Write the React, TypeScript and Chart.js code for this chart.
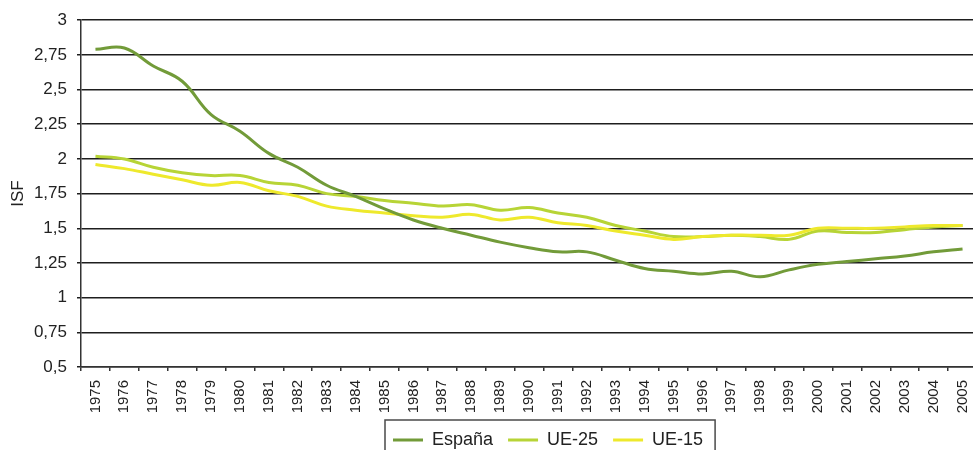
import React, { useEffect, useRef } from 'react';
import { Chart, registerables } from 'chart.js';

Chart.register(...registerables);

const YEARS = [
  '1975', '1976', '1977', '1978', '1979', '1980', '1981', '1982', '1983', '1984',
  '1985', '1986', '1987', '1988', '1989', '1990', '1991', '1992', '1993', '1994',
  '1995', '1996', '1997', '1998', '1999', '2000', '2001', '2002', '2003', '2004', '2005',
];

const ESPANA = [
  2.79, 2.80, 2.67, 2.56, 2.32, 2.20, 2.04, 1.94, 1.81, 1.73,
  1.64, 1.56, 1.50, 1.45, 1.40, 1.36, 1.33, 1.33, 1.27, 1.21,
  1.19, 1.17, 1.19, 1.15, 1.20, 1.24, 1.26, 1.28, 1.30, 1.33, 1.35,
];

const UE25 = [
  2.02, 2.00, 1.94, 1.90, 1.88, 1.88, 1.83, 1.81, 1.75, 1.73,
  1.70, 1.68, 1.66, 1.67, 1.63, 1.65, 1.61, 1.58, 1.52, 1.48,
  1.44, 1.44, 1.45, 1.44, 1.42, 1.48, 1.47, 1.47, 1.49, 1.51, 1.52,
];

const UE15 = [
  1.96, 1.93, 1.89, 1.85, 1.81, 1.83, 1.77, 1.73, 1.66, 1.63,
  1.61, 1.59, 1.58, 1.60, 1.56, 1.58, 1.54, 1.52, 1.48, 1.45,
  1.42, 1.44, 1.45, 1.45, 1.45, 1.50, 1.50, 1.50, 1.51, 1.52, 1.52,
];

const SERIES_NAMES = ['España', 'UE-25', 'UE-15'];
const SERIES_COLORS = ['#729b39', '#b7d436', '#eee92c'];
const Y_MIN = 0.5;
const Y_MAX = 3;
const Y_STEP = 0.25;
const Y_TITLE = 'ISF';

const FONT = "'Liberation Sans', Arial, Helvetica, sans-serif";

export default function App() {
  const ref = useRef<HTMLCanvasElement | null>(null);

  useEffect(() => {
    const canvas = ref.current;
    if (!canvas) return;
    Chart.defaults.font.family = FONT;

    const LEGEND_PAD = 15;

    const legendPlace = {
      id: 'legendPlace',
      afterLayout(chart: any) {
        const lg = chart.legend;
        if (!lg || !lg.lineWidths) return;
        const sum = lg.lineWidths[0];
        const cx = (lg.left + LEGEND_PAD + lg.right - sum) / 2;
        const dx = 393 - cx;
        lg.left += dx;
        lg.right += dx;
        const dy = 416 - lg.top;
        lg.top += dy;
        lg.bottom += dy;
      },
      afterDraw(chart: any) {
        const lg = chart.legend;
        if (!lg || !lg.legendHitBoxes || !lg.legendHitBoxes.length) return;
        const hb = lg.legendHitBoxes;
        const first = hb[0];
        const last = hb[hb.length - 1];
        const ctx = chart.ctx;
        ctx.save();
        ctx.strokeStyle = '#4a4a4a';
        ctx.lineWidth = 1.5;
        const left = first.left - 8;
        const top = first.top - 11;
        const right = last.left + last.width + 12;
        ctx.strokeRect(left, top, right - left, 60);
        ctx.restore();
      },
    };

    const datasets = [ESPANA, UE25, UE15].map((values, i) => ({
      label: SERIES_NAMES[i],
      data: values,
      borderColor: SERIES_COLORS[i],
      backgroundColor: SERIES_COLORS[i],
      borderWidth: 3,
      pointRadius: 0,
      pointHoverRadius: 0,
      pointStyle: 'line',
      tension: 0.4,
      fill: false,
      order: i === 0 ? 0 : i === 2 ? 1 : 2,
    }));

    const chart = new Chart(canvas, {
      type: 'line',
      data: { labels: YEARS, datasets },
      options: {
        responsive: false,
        animation: false,
        devicePixelRatio: 1,
        layout: { padding: { top: 19, right: 3, left: 0, bottom: 0 } },
        plugins: {
          tooltip: { enabled: false },
          legend: {
            display: true,
            position: 'bottom',
            labels: {
              usePointStyle: true,
              pointStyle: 'line',
              pointStyleWidth: 30,
              padding: LEGEND_PAD,
              color: '#222',
              font: { size: 18, family: FONT },
              sort: (a: any, b: any) => a.datasetIndex - b.datasetIndex,
            },
          },
        },
        scales: {
          x: {
            type: 'category',
            offset: true,
            grid: {
              display: true,
              drawOnChartArea: false,
              drawTicks: true,
              tickLength: 4,
              offset: true,
              color: '#333',
              lineWidth: 1.5,
            },
            border: { display: true, color: '#333', width: 1.5 },
            ticks: {
              autoSkip: false,
              minRotation: 90,
              maxRotation: 90,
              padding: 9,
              color: '#222',
              font: { size: 15, family: FONT },
            },
            afterFit: (s: any) => {
              s.height = 50;
              s.paddingRight = 0;
              s.paddingLeft = 0;
            },
          },
          y: {
            min: Y_MIN,
            max: Y_MAX,
            ticks: {
              stepSize: Y_STEP,
              padding: 10,
              color: '#222',
              font: { size: 17, family: FONT },
              callback: (v: any) => String(Number(v)).replace('.', ','),
            },
            grid: {
              color: '#1e1e1e',
              lineWidth: 1.5,
              drawTicks: true,
              tickLength: 4,
            },
            border: { display: true, color: '#333', width: 1.5 },
            title: {
              display: true,
              text: Y_TITLE,
              color: '#222',
              font: { size: 17, family: FONT },
              padding: { top: 8, bottom: 0 },
            },
            afterFit: (s: any) => {
              s.width = 81;
            },
          },
        },
      },
      plugins: [legendPlace],
    } as any);

    return () => {
      chart.destroy();
    };
  }, []);

  return (
    <div
      style={{
        position: 'absolute',
        left: 0,
        top: 0,
        width: 973,
        height: 450,
        overflow: 'hidden',
        background: '#fff',
      }}
    >
      <canvas ref={ref} width={980} height={460} style={{ display: 'block', width: 980, height: 460 }} />
    </div>
  );
}
